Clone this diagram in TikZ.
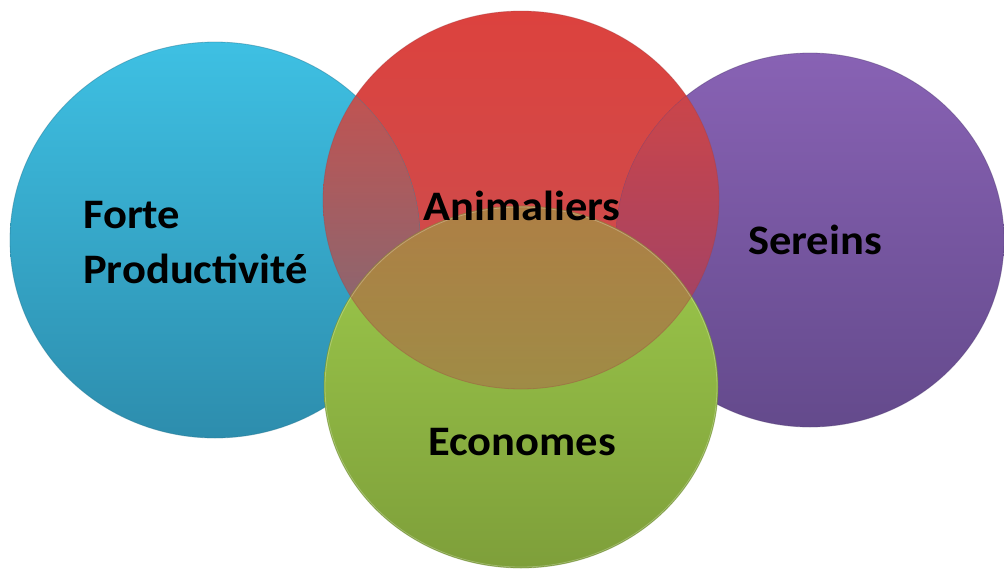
\documentclass[tikz,border=0pt]{standalone}
\usepackage{fontspec}
\setmainfont{Carlito}
\usetikzlibrary{shapes.geometric}
\definecolor{blueTop}{HTML}{3EC0E3}
\definecolor{blueBot}{HTML}{2D8DAD}
\definecolor{purpleTop}{HTML}{8862B4}
\definecolor{purpleBot}{HTML}{644A8C}
\definecolor{greenTop}{HTML}{9ECB4C}
\definecolor{greenBot}{HTML}{7E9F3A}
\definecolor{redTop}{RGB}{220,66,62}
\definecolor{redMid}{RGB}{214,104,102}
\definecolor{redBot}{RGB}{200,80,82}
% red seen through over blue
\definecolor{rbTop}{RGB}{240,55,42}
\definecolor{rbBot}{RGB}{132,104,114}
% red seen through over purple
\definecolor{rpTop}{RGB}{233,64,42}
\definecolor{rpBot}{RGB}{156,66,106}
% red seen through over green
\definecolor{rgTop}{RGB}{200,55,60}
\definecolor{rgBot}{RGB}{169,118,72}
\newcommand{\vtext}[1]{\scalebox{1.06}[1]{#1}}
\newcommand{\redpath}{(red.center) ellipse [x radius=198pt, y radius=189pt]}
\tikzset{
  venn/.style={ellipse, inner sep=0pt, outer sep=0pt, line width=0.8pt},
  lbl/.style={anchor=base west, inner sep=0pt, text=black,
    font=\fontsize{42}{50}\selectfont\bfseries}
}
\begin{document}
\begin{tikzpicture}[x=1pt, y=-1pt]
\useasboundingbox (0,0) rectangle (1004,570);
\fill[white] (0,0) rectangle (1004,570);
% red, opaque, where it lies over the white ground
\node[venn, minimum width=396pt, minimum height=378pt,
  top color=redTop, middle color=redMid, bottom color=redBot]
  (red) at (521,200) {};
% blue and purple
\node[venn, minimum width=410pt, minimum height=396pt,
  top color=blueTop, bottom color=blueBot, draw=blueBot!85!black, draw opacity=0.45]
  (blue) at (215,240) {};
\node[venn, minimum width=388pt, minimum height=374pt,
  top color=purpleTop, bottom color=purpleBot, draw=purpleBot!85!black, draw opacity=0.45]
  (purple) at (810,240) {};
% red through over blue and purple
\begin{scope}
  \clip (blue.center) ellipse [x radius=205pt, y radius=198pt];
  \path[top color=rbTop, bottom color=rbBot, fill opacity=0.85] \redpath;
\end{scope}
\begin{scope}
  \clip (purple.center) ellipse [x radius=194pt, y radius=187pt];
  \path[top color=rpTop, bottom color=rpBot, fill opacity=0.85] \redpath;
\end{scope}
% green
\node[venn, minimum width=394pt, minimum height=362pt,
  top color=greenTop, bottom color=greenBot, draw=greenBot!85!black, draw opacity=0.45]
  (green) at (521,387) {};
% red through over green
\begin{scope}
  \clip (green.center) ellipse [x radius=197pt, y radius=181pt];
  \path[top color=rgTop, middle color=rgTop, bottom color=rgBot, fill opacity=0.65] \redpath;
\end{scope}
% soft rims
\draw[white, draw opacity=0.25, line width=0.8pt] (green.center) ellipse [x radius=196pt, y radius=180pt];
\draw[redBot!80!black, draw opacity=0.35, line width=0.8pt] \redpath;
% labels
\node[lbl] (forte) at (83,228) {\vtext{Forte}};
\node[lbl] (prod) at (83,283) {\vtext{Productivité}};
\node[lbl] (anim) at (423,220) {\vtext{Animaliers}};
\node[lbl] (ser) at (748,254) {\vtext{Sereins}};
\node[lbl] (eco) at (428,455) {\vtext{Economes}};
\end{tikzpicture}
\end{document}
